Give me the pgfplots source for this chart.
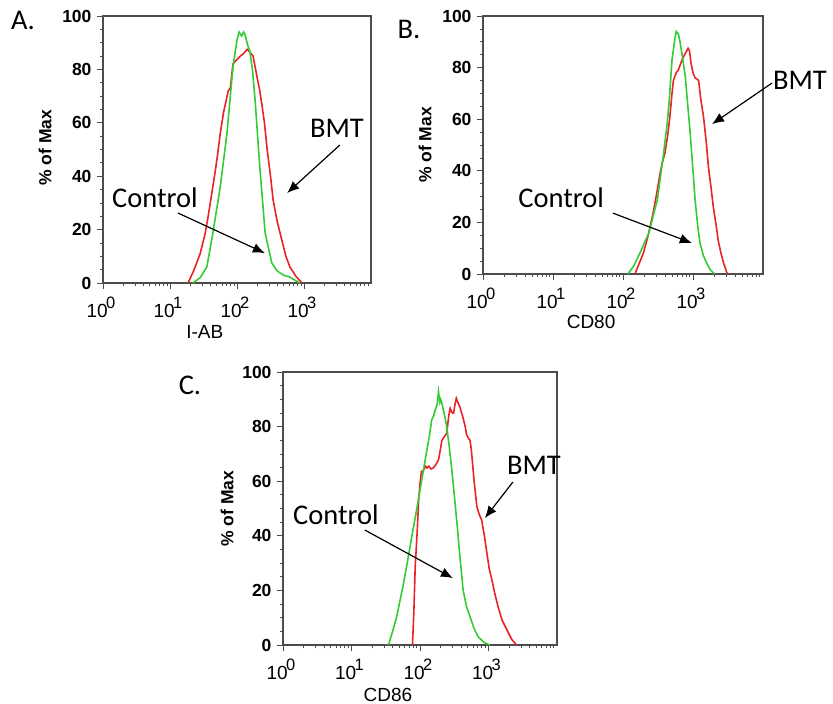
\documentclass[border=0pt]{standalone}
\usepackage{pgfplots}
\usepackage{pgfplotstable}
\pgfplotsset{compat=1.18}
\usepackage{fontspec}
\setmainfont{Liberation Sans}
\newfontfamily\calib{Carlito}
\usetikzlibrary{arrows.meta}

\definecolor{bmtred}{RGB}{232,36,40}
\definecolor{ctlgreen}{RGB}{52,204,52}

% x values are log10 of the fluorescence channel (axis drawn in decades)
\pgfplotstableread{
lx y
1.34 0
1.45 2
1.55 6
1.64 18.7
1.75 36
1.85 56
1.94 81
2.00 91
2.03 94
2.07 92.5
2.10 94
2.12 93
2.16 89
2.19 87
2.23 80
2.27 68.5
2.34 43.5
2.42 18.7
2.52 7.5
2.60 4.5
2.69 3
2.79 2.2
2.88 0.8
2.94 0
}\ctlA
\pgfplotstableread{
lx y
1.27 0
1.36 5
1.45 11
1.52 18
1.57 25
1.62 33
1.67 41
1.71 48
1.75 56
1.80 64
1.87 72
1.90 73
1.94 82
1.97 83
2.05 85
2.10 86
2.15 87.5
2.19 86.5
2.24 85
2.27 81
2.30 77
2.34 72
2.37 67
2.41 60
2.45 50
2.50 40
2.54 31
2.60 23
2.67 16
2.73 10
2.79 6
2.88 2.5
2.97 0
}\bmtA
\pgfplotstableread{
lx y
2.07 0
2.15 3
2.24 8
2.37 16
2.49 28.7
2.58 46.8
2.63 58
2.66 67
2.70 83
2.74 91
2.76 94
2.79 93
2.81 90.7
2.85 84
2.89 76.5
2.92 67
2.96 54.5
3.00 40
3.03 28.7
3.07 18
3.10 12
3.15 7
3.20 4
3.25 1.5
3.31 0
}\ctlB
\pgfplotstableread{
lx y
2.17 0
2.23 4
2.29 8
2.36 15
2.43 23.6
2.48 31
2.53 39
2.56 43
2.60 47
2.64 54
2.67 61
2.70 70
2.72 75
2.76 78
2.79 79
2.83 82
2.86 84
2.90 86
2.93 87.5
2.95 86.5
2.97 82
3.00 78
3.03 76
3.06 75.5
3.08 75
3.11 68
3.15 61
3.19 51
3.22 41.6
3.26 33
3.29 26
3.33 19
3.36 13
3.40 8
3.44 4
3.49 0
}\bmtB
\pgfplotstableread{
lx y
1.54 0
1.60 5
1.66 10.4
1.76 22.6
1.82 31
1.88 39.7
1.94 48
2.00 56.8
2.05 64
2.10 71.4
2.14 77
2.17 82.4
2.20 84
2.22 86
2.25 88
2.27 92.8
2.29 89
2.30 90
2.32 88.5
2.36 84
2.39 80
2.43 72
2.46 65.3
2.50 55
2.54 44.6
2.58 33
2.63 20
2.68 14
2.73 10.4
2.79 6
2.85 3
2.93 1
3.02 0
}\ctlC
\pgfplotstableread{
lx y
1.89 0
1.91 12
1.93 28.7
1.96 42
1.98 53
2.00 59
2.02 63.5
2.05 64
2.08 65.5
2.10 64.8
2.13 65.5
2.16 64.5
2.19 64.8
2.23 66
2.27 67.8
2.30 72
2.32 75
2.36 76.5
2.39 77.5
2.42 84
2.44 86.7
2.47 85
2.49 84.9
2.51 88
2.53 90.4
2.55 89
2.58 87.3
2.62 84
2.66 80
2.68 77
2.71 75.7
2.73 75
2.75 71.4
2.79 60
2.83 50.7
2.87 47.5
2.90 45.8
2.94 40
2.97 34.8
3.01 28
3.05 23.8
3.10 18
3.14 14
3.20 9
3.27 5.5
3.34 2
3.41 0
}\bmtC

\newcommand{\decade}[1]{10\kern-0.08em\raisebox{9pt}{\fontsize{16.5}{17}\selectfont #1}}

\tikzset{
  annot/.style={font=\calib\fontsize{28.5}{30}\selectfont, anchor=center},
  annarrow/.style={-{Latex[length=12pt,width=10pt]}, line width=1.2pt, black},
}

\pgfplotsset{
  facsaxis/.style={
    scale only axis, clip=false,
    xmin=0, xmax=4, ymin=0, ymax=100,
    xtick={0,1,2,3}, xticklabels={\decade0,\decade1,\decade2,\decade3},
    minor xtick={0.301,0.477,0.602,0.699,0.778,0.845,0.903,0.954,
                 1.301,1.477,1.602,1.699,1.778,1.845,1.903,1.954,
                 2.301,2.477,2.602,2.699,2.778,2.845,2.903,2.954,
                 3.301,3.477,3.602,3.699,3.778,3.845,3.903,3.954},
    ytick={0,20,40,60,80,100}, minor y tick num=3,
    /pgf/number format/assume math mode=true,
    tick align=outside, xtick pos=left, ytick pos=left,
    major tick length=6pt, minor tick length=3pt,
    axis line style={black!70, line width=1.1pt},
    tick style={black!70, line width=0.8pt},
    xticklabel style={font=\fontsize{19}{20}\selectfont, anchor=base, yshift=-28pt, xshift=-2pt},
    yticklabel style={font=\fontsize{17.5}{18}\bfseries, anchor=east, xshift=-2pt},
    ylabel={\% of Max},
    xlabel style={font=\fontsize{19}{20}\selectfont, anchor=center},
    ylabel style={font=\fontsize{17.5}{20}\bfseries, anchor=center},
  },
}

\begin{document}
\begin{tikzpicture}
\useasboundingbox (0,0) rectangle (833pt,-704pt);

% A
\begin{axis}[facsaxis, at={(103pt,-283pt)}, anchor=south west,
  width=268pt, height=267pt, xlabel={I-AB},
  ylabel style={at={(axis description cs:-0.216,0.507)}},
  xlabel style={at={(axis description cs:0.38,-0.183)}}]
\addplot[bmtred, line width=1.6pt] table[x=lx, y=y] {\bmtA};
\addplot[ctlgreen, line width=1.6pt] table[x=lx, y=y] {\ctlA};
\node[annot] at (rel axis cs:0.873,0.581) {BMT};
\draw[annarrow] (rel axis cs:0.884,0.517) -- (rel axis cs:0.687,0.337);
\node[annot] at (rel axis cs:0.194,0.318) {Control};
\draw[annarrow] (rel axis cs:0.280,0.262) -- (rel axis cs:0.604,0.112);
\end{axis}

% B
\begin{axis}[facsaxis, at={(483pt,-274pt)}, anchor=south west,
  width=280pt, height=258pt, xlabel={CD80},
  ylabel style={at={(axis description cs:-0.207,0.50)}},
  xlabel style={at={(axis description cs:0.386,-0.186)}}]
\addplot[bmtred, line width=1.6pt] table[x=lx, y=y] {\bmtB};
\addplot[ctlgreen, line width=1.6pt] table[x=lx, y=y] {\ctlB};
\node[annot] at (rel axis cs:1.132,0.752) {BMT};
\draw[annarrow] (rel axis cs:1.032,0.740) -- (rel axis cs:0.818,0.581);
\node[annot] at (rel axis cs:0.279,0.295) {Control};
\draw[annarrow] (rel axis cs:0.464,0.236) -- (rel axis cs:0.746,0.120);
\end{axis}

% C
\begin{axis}[facsaxis, at={(283pt,-645pt)}, anchor=south west,
  width=274pt, height=273pt, xlabel={CD86},
  ylabel style={at={(axis description cs:-0.204,0.50)}},
  xlabel style={at={(axis description cs:0.383,-0.183)}}]
\addplot[bmtred, line width=1.6pt] table[x=lx, y=y] {\bmtC};
\addplot[ctlgreen, line width=1.6pt] table[x=lx, y=y] {\ctlC};
\node[annot] at (rel axis cs:0.916,0.659) {BMT};
\draw[annarrow] (rel axis cs:0.839,0.597) -- (rel axis cs:0.737,0.465);
\node[annot] at (rel axis cs:0.193,0.476) {Control};
\draw[annarrow] (rel axis cs:0.299,0.421) -- (rel axis cs:0.620,0.245);
\end{axis}

\node[annot, anchor=base] at (23pt,-29pt) {A.};
\node[annot, anchor=base] at (409pt,-38pt) {B.};
\node[annot, anchor=base] at (190pt,-394pt) {C.};
\end{tikzpicture}
\end{document}
